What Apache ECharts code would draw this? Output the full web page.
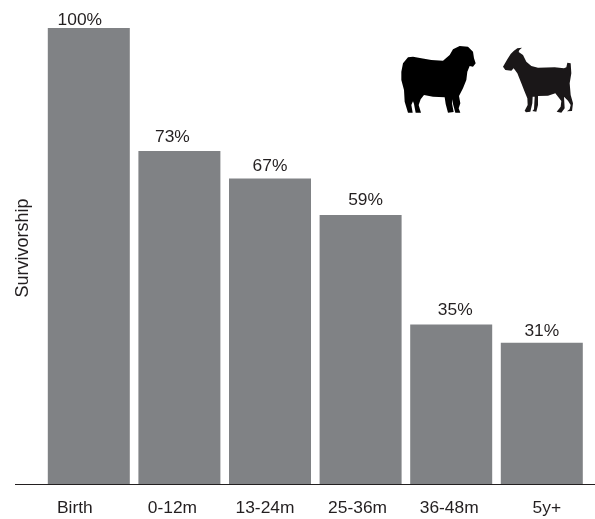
<!DOCTYPE html>
<html><head><meta charset="utf-8">
<style>html,body{margin:0;padding:0;background:#fff}#c{width:595px;height:519px}</style>
<script src="https://cdn.jsdelivr.net/npm/echarts@6/dist/echarts.min.js"></script>
</head><body><div id="c"></div>
<script>
const categories = ['Birth','0-12m','13-24m','25-36m','36-48m','5y+'];
const survivorship = [100,73,67,59,35,31];
const tickLabelShift = [-14,-7,-5,-3,-2,5];
const valueLabelShiftX = [-9,-7,0,5,4,0];
const valueLabelShiftY = [4,-2,-1,-3,-3,0];
const sheepOutline = [[10,95],[15,70],[30,52],[45,50],[70,55],[100,60],[135,62],[155,45],[165,28],[185,18],[210,20],[225,35],[228,55],[233,70],[225,80],[215,78],[208,95],[205,120],[195,145],[183,168],[187,190],[182,205],[187,218],[172,218],[165,192],[162,178],[162,190],[167,216],[150,218],[143,192],[140,172],[105,170],[78,165],[68,178],[62,195],[69,218],[53,218],[48,192],[45,184],[40,195],[44,218],[30,218],[20,185],[18,150],[10,120]];
const goatOutline = [[72,23],[58,25],[47,33],[38,42],[28,58],[15,80],[22,90],[40,92],[47,85],[58,100],[70,130],[80,155],[88,175],[89,195],[80,212],[84,217],[97,215],[103,190],[104,170],[110,170],[108,208],[103,213],[115,215],[120,195],[120,168],[150,167],[172,160],[190,183],[188,200],[176,215],[190,218],[200,205],[198,170],[210,182],[218,195],[215,208],[207,214],[222,213],[225,190],[218,165],[215,130],[220,100],[218,70],[208,68],[205,82],[198,85],[170,82],[120,83],[100,78],[85,65],[75,45],[62,36],[64,30]];
const font = '"Liberation Sans", Arial, sans-serif';
const chart = echarts.init(document.getElementById('c'), null, {renderer:'canvas'});
chart.setOption({
  animation:false,
  backgroundColor:'#fff',
  grid:{left:43.5,right:7.9,top:28,bottom:35,containLabel:false},
  xAxis:{type:'category',
    data:categories.map((c,i)=>{
      const s=tickLabelShift[i]*2;
      return {value:c,textStyle:{padding:s<0?[0,-s,0,0]:[0,0,0,s]}};
    }),
    axisLine:{show:false},axisTick:{show:false},
    axisLabel:{color:'#231f20',fontFamily:font,fontSize:17.4,margin:16,interval:0}},
  yAxis:{type:'value',min:0,max:100,
    name:'Survivorship',nameLocation:'middle',nameGap:11,
    nameTextStyle:{color:'#231f20',fontFamily:font,fontSize:18,padding:[0,0,0,16]},
    axisLine:{show:false},axisTick:{show:false},axisLabel:{show:false},splitLine:{show:false}},
  series:[{type:'bar',
    data:survivorship.map((v,i)=>({value:v,label:{offset:[valueLabelShiftX[i],valueLabelShiftY[i]]}})),
    barWidth:82,
    itemStyle:{color:'#808285'},
    label:{show:true,position:'top',distance:3,formatter:'{c}%',color:'#231f20',fontFamily:font,fontSize:17.4}}],
  graphic:[
    {type:'line',silent:true,z:10,shape:{x1:15,y1:484.5,x2:595,y2:484.5},style:{stroke:'#231f20',lineWidth:1}},
    {type:'polygon',silent:true,x:398,y:40,scaleX:1/3,scaleY:1/3,shape:{points:sheepOutline},style:{fill:'#000'}},
    {type:'polygon',silent:true,x:498,y:40,scaleX:1/3,scaleY:1/3,shape:{points:goatOutline},style:{fill:'#1a1718'}}
  ]
});
</script></body></html>
